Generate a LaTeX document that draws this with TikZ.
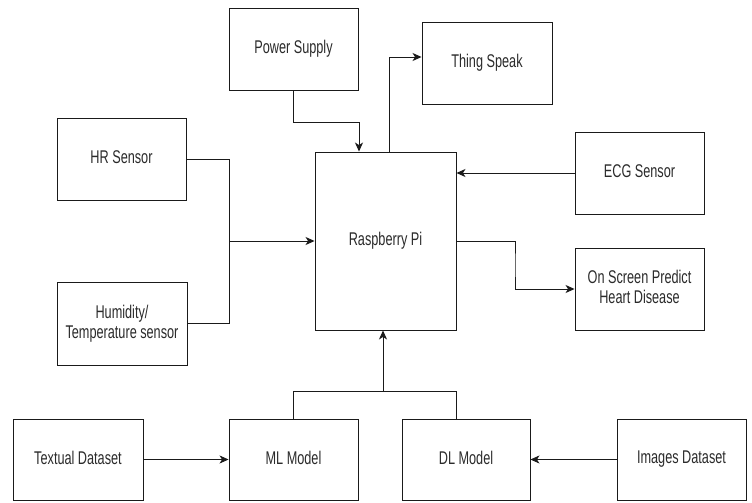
\documentclass[tikz,border=0pt]{standalone}
\usepackage{fontspec}
\setmainfont[FakeStretch=0.69]{Liberation Sans}
\usetikzlibrary{arrows.meta, calc, positioning}
\definecolor{boxline}{HTML}{1A1A1A}
\definecolor{boxtext}{HTML}{2B2B2B}

\begin{document}
\begin{tikzpicture}[
    x=1pt, y=-1pt,
    block/.style={
        draw=boxline, line width=0.9pt, fill=white,
        minimum width=129pt, minimum height=82pt,
        font=\fontsize{18.4}{20}\selectfont, text=boxtext,
        align=center, inner sep=0pt, text depth=4pt
    },
    wire/.style={
        draw=boxline, line width=0.9pt
    },
    wirearrow/.style={
        wire, -{Stealth[length=9pt, width=8pt, inset=2.5pt]}
    },
]

% === Frame ===
\useasboundingbox (0,0) rectangle (752,503);

% === Top row ===
\node[block] (power) at (293.5,49) {Power Supply};
\node[block, minimum width=130pt] (thing) at (487,63) {Thing Speak};

% === Left sensors ===
\node[block] (hr) at (121.5,159) {HR Sensor};
\node[block, minimum width=130pt, minimum height=83pt] (hum) at (122,323.5) {Humidity/\\Temperature sensor};

% === Controller ===
\node[block, minimum width=141pt, minimum height=178pt] (rpi) at (385.5,241) {Raspberry Pi};

% === Right side ===
\node[block] (ecg) at (639.5,173) {ECG Sensor};
\node[block] (screen) at (639.5,289) {On Screen Predict\\Heart Disease};

% === Bottom row ===
\node[block, minimum width=130pt, minimum height=81pt] (textdata) at (78,459.5) {Textual Dataset};
\node[block, minimum height=81pt] (ml) at (293.5,459.5) {ML Model};
\node[block, minimum width=128pt, minimum height=81pt] (dl) at (466,459.5) {DL Model};
\node[block, minimum height=81pt] (imgdata) at (681.5,459.5) {Images Dataset};

% === Bend points ===
\coordinate (hrjoin) at (229,241);
\coordinate (pwrbend) at (359,122);
\coordinate (tsfoot) at (389,57);
\coordinate (mljoin) at (383,391);
\coordinate (dltop) at ([xshift=-10pt]dl.north);

% === Sensors into the controller ===
\draw[wire] (hr.east) -| (hrjoin);
\draw[wire] (hum.east) -| (hrjoin);
\draw[wirearrow] (hrjoin) -- (rpi.west);
\draw[wirearrow] (ecg.west) -- (ecg.west -| rpi.east);

% === Power and cloud ===
\draw[wirearrow] (power.south) |- (pwrbend) -- (pwrbend |- rpi.north);
\draw[wirearrow] (tsfoot |- rpi.north) -- (tsfoot) -- (tsfoot -| thing.west);

% === Output ===
\draw[wirearrow] (rpi.east) -| (515,265) |- (screen.west);

% === Models ===
\draw[wirearrow] (textdata.east) -- (ml.west);
\draw[wirearrow] (imgdata.west) -- (dl.east);
\draw[wire] (ml.north) |- (dltop |- mljoin) -- (dltop);
\draw[wirearrow] (mljoin) -- (mljoin |- rpi.south);

\end{tikzpicture}
\end{document}
